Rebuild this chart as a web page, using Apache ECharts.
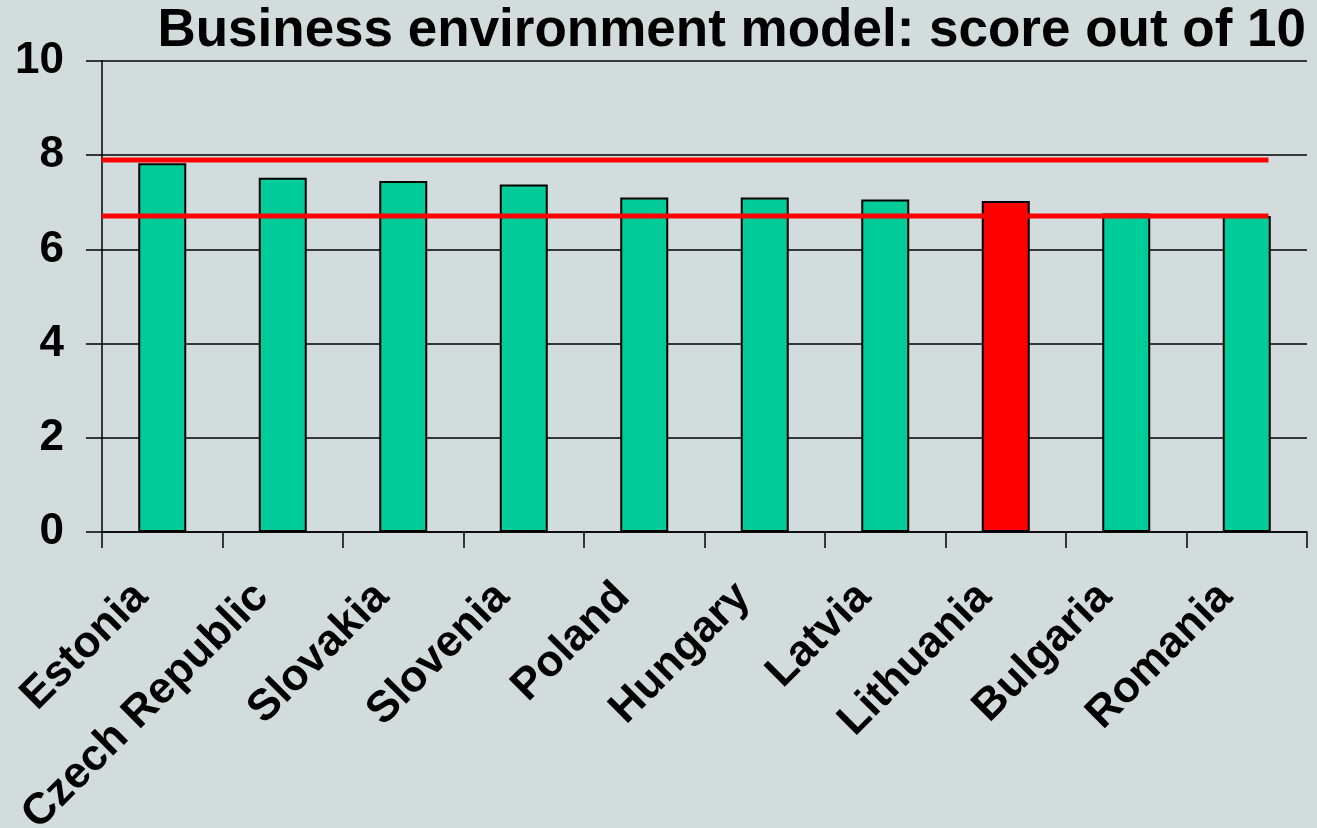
<!DOCTYPE html>
<html>
<head>
<meta charset="utf-8">
<script src="https://cdn.jsdelivr.net/npm/echarts@6/dist/echarts.min.js"></script>
<style>
  html, body { margin: 0; padding: 0; background: #d3dcdd; }
  #main { width: 1317px; height: 828px; }
</style>
</head>
<body>
<div id="main"></div>
<script>
// Business environment model scores
const countries = ["Estonia", "Czech Republic", "Slovakia", "Slovenia", "Poland",
  "Hungary", "Latvia", "Lithuania", "Bulgaria", "Romania"];
const scores = [7.83, 7.52, 7.45, 7.38, 7.1, 7.1, 7.06, 7.03, 6.76, 6.71];
const highlight = "Lithuania";
// two horizontal reference lines (score), running from first category edge to near the end
const refLevels = [7.9, 6.71];
const refSpan = [0, 9.68]; // in category units

const font = "'Liberation Sans', Arial, sans-serif";

const myChart = echarts.init(document.getElementById("main"));

const option = {
  backgroundColor: "#d3dcdd",
  animation: false,
  title: {
    text: "Business environment model: score out of 10",
    right: 6,
    top: 0,
    textStyle: { fontFamily: font, fontSize: 53, fontWeight: "bold", color: "#000" }
  },
  grid: { left: 102, right: 10, top: 61, bottom: 296, outerBoundsMode: "none", containLabel: false },
  xAxis: [
    {
      type: "category",
      data: countries,
      axisLine: { lineStyle: { color: "#000", width: 1.5 } },
      axisTick: { show: true, length: 16, lineStyle: { color: "#000", width: 1.5 } },
      axisLabel: {
        rotate: 45,
        interval: 0,
        margin: 37,
        padding: [0, 30, 0, 0],
        fontFamily: font,
        fontSize: 44,
        fontWeight: "bold",
        color: "#000"
      }
    },
    {
      type: "value",
      min: 0,
      max: countries.length,
      show: false
    }
  ],
  yAxis: {
    type: "value",
    min: 0,
    max: 10,
    interval: 2,
    axisLine: { show: true, lineStyle: { color: "#000", width: 1.5 } },
    axisTick: { show: true, length: 16, lineStyle: { color: "#000", width: 1.5 } },
    splitLine: { lineStyle: { color: "#000", width: 1.5 } },
    axisLabel: {
      margin: 38,
      fontFamily: font,
      fontSize: 44,
      fontWeight: "bold",
      color: "#000"
    }
  },
  series: [
    {
      type: "bar",
      barWidth: 48,
      data: scores.map((v, i) => ({
        value: v,
        itemStyle: { color: countries[i] === highlight ? "#ff0000" : "#00cc99" }
      })),
      itemStyle: { borderColor: "#000", borderWidth: 2 }
    }
  ].concat(refLevels.map(level => ({
    type: "line",
    xAxisIndex: 1,
    data: refSpan.map(x => [x, level]),
    symbol: "none",
    lineStyle: { color: "#ff0000", width: 5 },
    z: 5
  })))
};

myChart.setOption(option);
</script>
</body>
</html>
